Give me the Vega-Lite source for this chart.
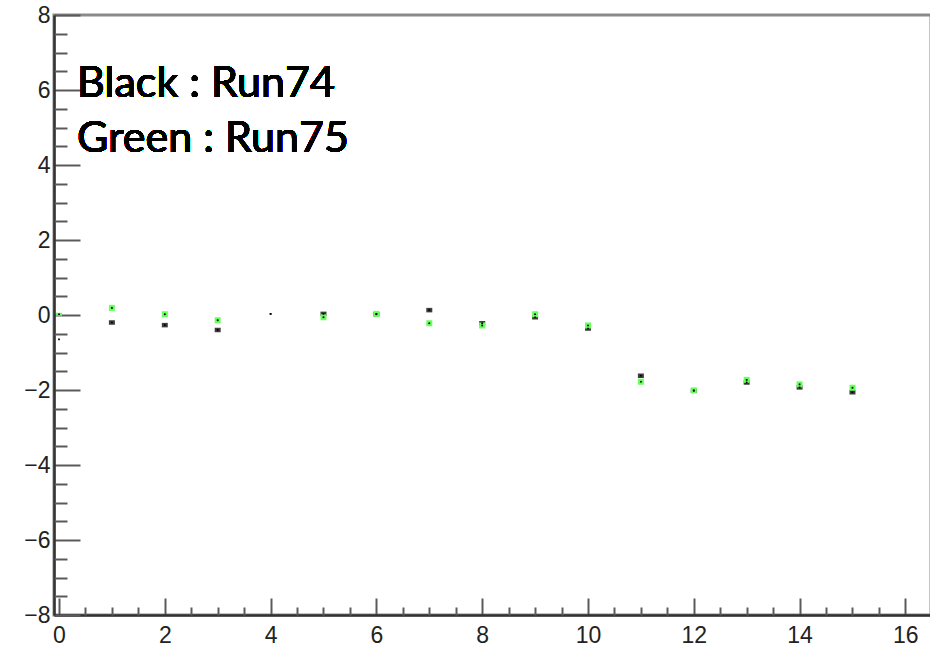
{
  "$schema": "https://vega.github.io/schema/vega-lite/v6.json",
  "width": 877,
  "height": 600,
  "autosize": {"type": "none"},
  "padding": {"left": 54, "top": 15, "right": 0, "bottom": 32},
  "background": "white",
  "config": {
    "view": {"stroke": "#8a8a8a", "strokeWidth": 3},
    "style": {"guide-label": {"font": "Liberation Sans", "fontSize": 23, "fill": "#222222"}},
    "axis": {
      "grid": false,
      "domainColor": "#333333",
      "domainWidth": 2.5,
      "tickColor": "#5a5a5a",
      "tickWidth": 2,
      "labelFont": "Liberation Sans",
      "labelFontSize": 23,
      "labelColor": "#222222",
      "labelFlush": false,
      "labelOverlap": false,
      "title": null
    }
  },
  "resolve": {"axis": {"x": "independent", "y": "independent"}},
  "data": {
    "values": [
      {"run": "Run74", "x": 0, "y": -0.65, "lo": -0.65, "hi": -0.65},
      {"run": "Run74", "x": 1, "y": -0.20, "lo": -0.26, "hi": -0.14},
      {"run": "Run74", "x": 2, "y": -0.27, "lo": -0.33, "hi": -0.21},
      {"run": "Run74", "x": 3, "y": -0.40, "lo": -0.46, "hi": -0.34},
      {"run": "Run74", "x": 4, "y": 0.03, "lo": 0.03, "hi": 0.03},
      {"run": "Run74", "x": 5, "y": 0.03, "lo": -0.03, "hi": 0.09},
      {"run": "Run74", "x": 6, "y": 0.02, "lo": -0.04, "hi": 0.08},
      {"run": "Run74", "x": 7, "y": 0.13, "lo": 0.07, "hi": 0.19},
      {"run": "Run74", "x": 8, "y": -0.22, "lo": -0.28, "hi": -0.16},
      {"run": "Run74", "x": 9, "y": -0.06, "lo": -0.12, "hi": 0.00},
      {"run": "Run74", "x": 10, "y": -0.36, "lo": -0.42, "hi": -0.30},
      {"run": "Run74", "x": 11, "y": -1.62, "lo": -1.68, "hi": -1.56},
      {"run": "Run74", "x": 12, "y": -2.02, "lo": -2.08, "hi": -1.96},
      {"run": "Run74", "x": 13, "y": -1.80, "lo": -1.86, "hi": -1.74},
      {"run": "Run74", "x": 14, "y": -1.93, "lo": -1.99, "hi": -1.87},
      {"run": "Run74", "x": 15, "y": -2.06, "lo": -2.12, "hi": -2.00},
      {"run": "Run75", "x": 0, "y": 0.02, "lo": -0.02, "hi": 0.06},
      {"run": "Run75", "x": 1, "y": 0.19, "lo": 0.11, "hi": 0.27},
      {"run": "Run75", "x": 2, "y": 0.02, "lo": -0.06, "hi": 0.10},
      {"run": "Run75", "x": 3, "y": -0.14, "lo": -0.22, "hi": -0.06},
      {"run": "Run75", "x": 4, "y": 0.03, "lo": 0.03, "hi": 0.03},
      {"run": "Run75", "x": 5, "y": -0.06, "lo": -0.14, "hi": 0.02},
      {"run": "Run75", "x": 6, "y": 0.03, "lo": -0.05, "hi": 0.11},
      {"run": "Run75", "x": 7, "y": -0.22, "lo": -0.30, "hi": -0.14},
      {"run": "Run75", "x": 8, "y": -0.28, "lo": -0.36, "hi": -0.20},
      {"run": "Run75", "x": 9, "y": 0.02, "lo": -0.06, "hi": 0.10},
      {"run": "Run75", "x": 10, "y": -0.28, "lo": -0.36, "hi": -0.20},
      {"run": "Run75", "x": 11, "y": -1.78, "lo": -1.86, "hi": -1.70},
      {"run": "Run75", "x": 12, "y": -2.01, "lo": -2.09, "hi": -1.93},
      {"run": "Run75", "x": 13, "y": -1.73, "lo": -1.81, "hi": -1.65},
      {"run": "Run75", "x": 14, "y": -1.85, "lo": -1.93, "hi": -1.77},
      {"run": "Run75", "x": 15, "y": -1.94, "lo": -2.02, "hi": -1.86}
    ]
  },
  "layer": [
    {
      "mark": {"type": "bar", "width": 6},
      "encoding": {
        "x": {
          "field": "x",
          "type": "quantitative",
          "scale": {"domain": [0, 16.39], "nice": false, "zero": false},
          "axis": {
            "orient": "bottom",
            "values": [0, 2, 4, 6, 8, 10, 12, 14, 16],
            "tickSize": -17,
            "labelPadding": 26,
            "labelFontSize": 23
          }
        },
        "y": {
          "field": "lo",
          "type": "quantitative",
          "scale": {"domain": [-8, 8], "nice": false, "zero": false},
          "axis": {
            "orient": "left",
            "values": [-8, -6, -4, -2, 0, 2, 4, 6, 8],
            "tickSize": -26,
            "labelPadding": 30,
            "labelFontSize": 23
          }
        },
        "y2": {"field": "hi"},
        "color": {
          "field": "run",
          "type": "nominal",
          "scale": {"domain": ["Run74", "Run75"], "range": ["#3c3c3c", "#66ff5c"]},
          "legend": null
        }
      }
    },
    {
      "mark": {"type": "point", "filled": true, "shape": "square", "size": 3, "color": "#000000", "opacity": 1},
      "encoding": {
        "x": {
          "field": "x",
          "type": "quantitative",
          "axis": {
            "orient": "bottom",
            "values": [0.5, 1, 1.5, 2.5, 3, 3.5, 4.5, 5, 5.5, 6.5, 7, 7.5, 8.5, 9, 9.5, 10.5, 11, 11.5, 12.5, 13, 13.5, 14.5, 15, 15.5],
            "tickSize": -8,
            "labels": false,
            "domain": false
          }
        },
        "y": {
          "field": "y",
          "type": "quantitative",
          "axis": {
            "orient": "left",
            "values": [-7.5, -7, -6.5, -5.5, -5, -4.5, -3.5, -3, -2.5, -1.5, -1, -0.5, 0.5, 1, 1.5, 2.5, 3, 3.5, 4.5, 5, 5.5, 6.5, 7, 7.5],
            "tickSize": -13,
            "labels": false,
            "domain": false
          }
        }
      }
    },
    {
      "mark": {"type": "text", "align": "left", "baseline": "alphabetic", "font": "Lato", "fontSize": 43, "color": "#000000"},
      "encoding": {
        "x": {"datum": 0.34, "axis": null},
        "y": {"datum": 5.81, "axis": null},
        "text": {"value": "Black : Run74"}
      }
    },
    {
      "mark": {"type": "text", "align": "left", "baseline": "alphabetic", "font": "Lato", "fontSize": 43, "color": "#000000"},
      "encoding": {
        "x": {"datum": 0.34, "axis": null},
        "y": {"datum": 4.34, "axis": null},
        "text": {"value": "Green : Run75"}
      }
    }
  ]
}
